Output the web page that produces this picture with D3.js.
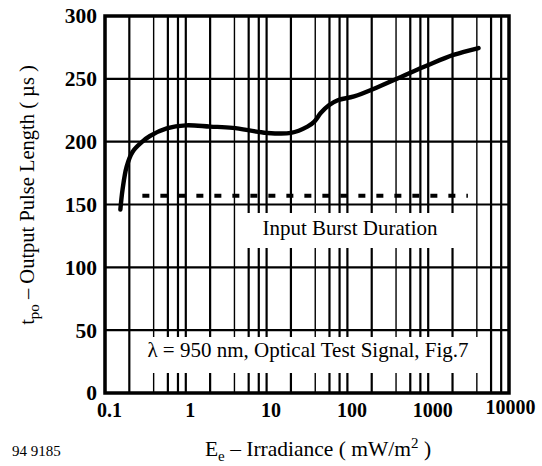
<!DOCTYPE html>
<html>
<head>
<meta charset="utf-8">
<script src="https://cdn.jsdelivr.net/npm/d3@7"></script>
<style>
  html, body { margin: 0; padding: 0; background: #fff; }
  svg { display: block; }
  text { font-family: "Liberation Serif", "DejaVu Serif", "Times New Roman", serif; fill: #000; }
</style>
</head>
<body>
<svg id="chart" width="542" height="466"></svg>
<script>
// Output pulse length vs. irradiance
const irradiance = [0.155, 0.165, 0.185, 0.22, 0.29, 0.36, 0.58, 1, 2, 3.8, 10, 20, 32, 39, 47, 59, 76, 121, 240, 460, 1000, 2050, 4200];
const pulseLength = [146, 162, 180, 192, 200, 204.5, 210.5, 213, 212, 211, 207, 207, 212, 216, 223, 229, 233, 236, 243.5, 251.5, 261, 269, 274.5];

// Input burst duration (dashed reference)
const burstIrradiance = [0.29, 3100];
const burstDuration = [157, 157];

const xTickValues = [0.1, 1, 10, 100, 1000, 10000];
const xTickLabels = ["0.1", "1", "10", "100", "1000", "10000"];
const yTickValues = [0, 50, 100, 150, 200, 250, 300];
const gridMultipliers = [1, 2, 4, 6, 8];

const serif = "'Liberation Serif', 'DejaVu Serif', serif";
const svg = d3.select("#chart");
const plotLeft = 105, plotRight = 509, plotTop = 16, plotBottom = 393;

const x = d3.scaleLog().domain([0.1, 10000]).range([plotLeft, plotRight]);
const y = d3.scaleLinear().domain([0, 300]).range([plotBottom, plotTop]);

// Vertical grid lines at 1, 2, 4, 6, 8 of each decade
const vGrid = [];
for (const d of [0.1, 1, 10, 100, 1000]) {
  for (const m of gridMultipliers) vGrid.push({ v: d * m, m });
}
svg.append("g").selectAll("line").data(vGrid).join("line")
  .attr("x1", d => x(d.v)).attr("x2", d => x(d.v))
  .attr("y1", plotTop).attr("y2", plotBottom)
  .attr("stroke", "#000")
  .attr("stroke-width", d => d.m === 4 ? 1.4 : 2.2);

// Horizontal grid lines
svg.append("g").selectAll("line").data(yTickValues.slice(1, -1)).join("line")
  .attr("x1", plotLeft).attr("x2", plotRight)
  .attr("y1", d => y(d)).attr("y2", d => y(d))
  .attr("stroke", "#000").attr("stroke-width", 2.2);

// Label panels that blank out the grid behind the annotations
svg.append("rect").attr("x", 242).attr("y", 213).attr("width", 224).attr("height", 35).attr("fill", "#fff");
svg.append("rect").attr("x", 139).attr("y", 337).attr("width", 346).attr("height", 36).attr("fill", "#fff");

// Frame
svg.append("rect")
  .attr("x", plotLeft).attr("y", plotTop)
  .attr("width", plotRight - plotLeft).attr("height", plotBottom - plotTop)
  .attr("fill", "none").attr("stroke", "#000").attr("stroke-width", 3.5);

// Dashed input burst line
svg.append("path")
  .datum(burstIrradiance.map((v, i) => [v, burstDuration[i]]))
  .attr("d", d3.line().x(d => x(d[0])).y(d => y(d[1])))
  .attr("fill", "none").attr("stroke", "#000")
  .attr("stroke-width", 4).attr("stroke-dasharray", "7,11");

// Output pulse curve
svg.append("path")
  .datum(irradiance.map((v, i) => [v, pulseLength[i]]))
  .attr("d", d3.line().x(d => x(d[0])).y(d => y(d[1])).curve(d3.curveCatmullRom.alpha(0.5)))
  .attr("fill", "none").attr("stroke", "#000")
  .attr("stroke-width", 4.4).attr("stroke-linecap", "round").attr("stroke-linejoin", "round");

// Y axis
const yAxis = svg.append("g")
  .attr("transform", `translate(${plotLeft - 8},0)`)
  .call(d3.axisLeft(y).tickValues(yTickValues).tickSize(0).tickPadding(0));
yAxis.attr("font-family", null);
yAxis.select(".domain").remove();
yAxis.selectAll("text")
  .style("font-family", serif)
  .style("font-size", "21.5px").style("font-weight", "bold").attr("fill", "#000");

// X axis
const xAxis = svg.append("g")
  .attr("transform", `translate(0,${plotBottom + 12})`)
  .call(d3.axisBottom(x).tickValues(xTickValues).tickSize(0).tickPadding(0)
    .tickFormat((d, i) => xTickLabels[i]));
xAxis.attr("font-family", null);
xAxis.select(".domain").remove();
xAxis.selectAll("text")
  .style("font-family", serif)
  .style("font-size", "20px").style("font-weight", "bold").attr("fill", "#000")
  .attr("dx", (d, i) => i === xTickLabels.length - 1 ? 1 : 4)
  .attr("dy", (d, i) => i === xTickLabels.length - 1 ? "0.45em" : "0.6em");

// Annotations
svg.append("text").attr("x", 350).attr("y", 235).attr("text-anchor", "middle")
  .style("font-family", serif).style("font-size", "21px").text("Input Burst Duration");
svg.append("text").attr("x", 308).attr("y", 357).attr("text-anchor", "middle")
  .style("font-family", serif).style("font-size", "21px").text("λ = 950 nm, Optical Test Signal, Fig.7");

// Axis titles
const yTitle = svg.append("text")
  .attr("transform", "translate(34,195) rotate(-90)")
  .attr("text-anchor", "middle").style("font-family", serif).style("font-size", "20.5px");
yTitle.append("tspan").text("t");
yTitle.append("tspan").attr("dy", 5).style("font-size", "15px").text("po");
yTitle.append("tspan").attr("dy", -5).text(" – Output Pulse Length ( µs )");

const xTitle = svg.append("text")
  .attr("x", 318).attr("y", 456).attr("text-anchor", "middle")
  .style("font-family", serif).style("font-size", "21.5px");
xTitle.append("tspan").text("E");
xTitle.append("tspan").attr("dy", 5).style("font-size", "15px").text("e");
xTitle.append("tspan").attr("dy", -5).text(" – Irradiance ( mW/m");
xTitle.append("tspan").attr("dy", -8).style("font-size", "15px").text("2");
xTitle.append("tspan").attr("dy", 8).text(" )");

svg.append("text").attr("x", 12).attr("y", 456)
  .style("font-family", serif).style("font-size", "15px").text("94 9185");
</script>
</body>
</html>
